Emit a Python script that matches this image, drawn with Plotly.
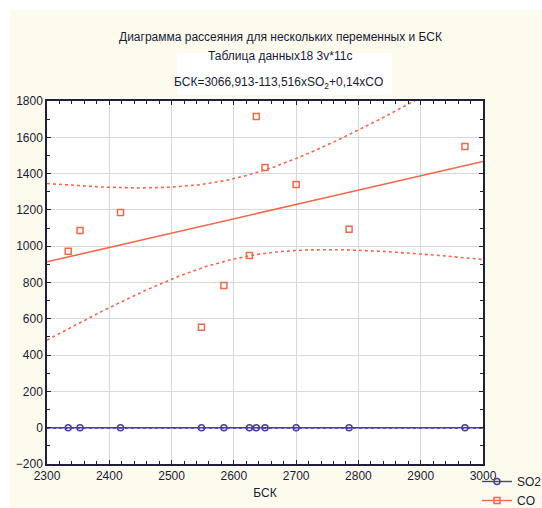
import numpy as np
import plotly.graph_objects as go

# Data
bsk = [2334, 2353, 2418, 2548, 2584, 2625, 2636, 2650, 2700, 2785, 2971]
co = [972, 1087, 1186, 553, 784, 949, 1715, 1434, 1340, 1093, 1550]
so2 = [0.05, 0.04, 0.06, 0.03, 0.03, 0.04, 0.03, 0.03, 0.03, 0.02, 0.02]

x_ticks = [2300, 2400, 2500, 2600, 2700, 2800, 2900, 3000]
y_ticks = [-200, 0, 200, 400, 600, 800, 1000, 1200, 1400, 1600, 1800]

CO_COLOR = "#f0694c"
SO2_COLOR = "#4b3e9c"
CREAM = "#fdfaee"
FONT = "Liberation Sans Narrow, Arial Narrow, Liberation Sans, Arial, sans-serif"
T95 = 2.262  # t(0.975, df=9)


def fit_with_band(x, y):
    x = np.asarray(x, float)
    y = np.asarray(y, float)
    n = len(x)
    b, a = np.polyfit(x, y, 1)
    resid = y - (a + b * x)
    s = np.sqrt(np.sum(resid ** 2) / (n - 2))
    xm = x.mean()
    sxx = np.sum((x - xm) ** 2)
    xs = np.linspace(x_ticks[0], x_ticks[-1], 200)
    yh = a + b * xs
    hw = T95 * s * np.sqrt(1 / n + (xs - xm) ** 2 / sxx)
    return xs, yh, yh - hw, yh + hw


fig = go.Figure()

for vals, color, sym, name in [(so2, SO2_COLOR, "circle-open", "SO2"),
                               (co, CO_COLOR, "square-open", "CO")]:
    xs, yh, lo, hi = fit_with_band(bsk, vals)
    for band in (lo, hi):
        fig.add_trace(go.Scatter(x=xs, y=band, mode="lines", showlegend=False,
                                 line=dict(color=color, width=1.6, dash="3px,3px"),
                                 hoverinfo="skip"))
    fig.add_trace(go.Scatter(x=xs, y=yh, mode="lines", showlegend=False,
                             line=dict(color=color, width=1.6), hoverinfo="skip"))
    fig.add_trace(go.Scatter(x=bsk, y=vals, mode="markers", showlegend=False,
                             marker=dict(symbol=sym, size=6, color=color,
                                         line=dict(width=1.5, color=color))))
    fig.add_trace(go.Scatter(x=[None], y=[None], mode="lines+markers", name=name,
                             line=dict(color=color, width=1.4),
                             marker=dict(symbol=sym, size=6, color=color,
                                         line=dict(width=1.5, color=color))))

axis_common = dict(
    showline=True, linecolor="#1f1f3a", linewidth=1.5, mirror="allticks",
    ticks="inside", ticklen=4, tickcolor="#1f1f3a",
    showgrid=True, gridcolor="#d9d9d9", gridwidth=1,
    zeroline=False,
    tickfont=dict(family=FONT, size=12, color="#1a1a33"),
)

fig.update_xaxes(range=[x_ticks[0], x_ticks[-1]], tickvals=x_ticks,
                 minor=dict(dtick=20, ticks="inside", ticklen=3, tickcolor="#1f1f3a", showgrid=False),
                 title=dict(text="БСК", font=dict(family=FONT, size=12, color="#1a1a33"), standoff=6),
                 **axis_common)
fig.update_yaxes(range=[y_ticks[0], y_ticks[-1]], tickvals=y_ticks,
                 minor=dict(dtick=100, ticks="inside", ticklen=3, tickcolor="#1f1f3a", showgrid=False),
                 **axis_common)

W, H = 542, 508
L, T = 47, 101
R = W - 483
B = H - 464
pw, ph = W - L - R, H - T - B


def px_x(p):
    return (p - L) / pw


def px_y(p):
    return (H - B - p) / ph


shapes = [
    dict(type="rect", xref="paper", yref="paper", x0=px_x(0), x1=px_x(W), y0=px_y(10), y1=px_y(0),
         fillcolor="white", line=dict(width=0), layer="below"),
    dict(type="rect", xref="paper", yref="paper", x0=px_x(0), x1=px_x(10), y0=px_y(H), y1=px_y(0),
         fillcolor="white", line=dict(width=0), layer="below"),
    dict(type="rect", xref="paper", yref="paper", x0=px_x(177), x1=px_x(392), y0=px_y(95), y1=px_y(53),
         fillcolor="white", line=dict(width=0), layer="below"),
]

annotations = [
    dict(text="Диаграмма рассеяния для нескольких переменных и БСК", xref="paper", yref="paper",
         x=px_x(280), y=px_y(28), showarrow=False, font=dict(family=FONT, size=12, color="#1a1a33")),
    dict(text="Таблица данных18 3v*11c", xref="paper", yref="paper",
         x=px_x(280), y=px_y(47), showarrow=False, font=dict(family=FONT, size=12, color="#1a1a33")),
    dict(text="БСК=3066,913-113,516xSO<sub>2</sub>+0,14xCO", xref="paper", yref="paper",
         x=px_x(278), y=px_y(73), showarrow=False,
         font=dict(family="Liberation Sans, Arial, sans-serif", size=12, color="#1a1a33")),
]

fig.update_layout(
    width=W, height=H,
    margin=dict(l=L, r=R, t=T, b=B, pad=0, autoexpand=False),
    paper_bgcolor=CREAM, plot_bgcolor="white",
    shapes=shapes, annotations=annotations,
    showlegend=True,
    legend=dict(xref="container", yref="container",
                x=477 / W, y=1 - 467 / H, xanchor="left", yanchor="top",
                bgcolor="rgba(0,0,0,0)", font=dict(family=FONT, size=12, color="#1a1a33"),
                itemwidth=30, tracegroupgap=0),
)

fig.write_html("out.html", config={"displayModeBar": False},
               post_script="document.body.style.margin='0';document.body.style.overflow='hidden';")
